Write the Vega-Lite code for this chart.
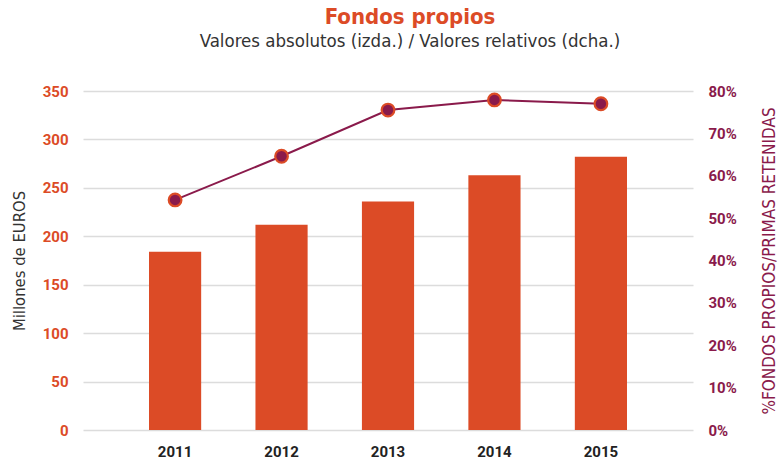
{
  "$schema": "https://vega.github.io/schema/vega-lite/v6.json",
  "width": 610,
  "height": 339,
  "autosize": "none",
  "padding": {"left": 83, "top": 91, "right": 90, "bottom": 35},
  "background": "white",
  "title": {
    "text": "Fondos propios",
    "subtitle": "Valores absolutos (izda.) / Valores relativos (dcha.)",
    "anchor": "middle",
    "dx": 22,
    "offset": 33,
    "font": "DejaVu Sans Condensed",
    "fontSize": 22,
    "fontWeight": "bold",
    "color": "#dc4b26",
    "subtitleFont": "DejaVu Sans Condensed",
    "subtitleFontSize": 18.5,
    "subtitleColor": "#333333",
    "subtitlePadding": 3
  },
  "data": {
    "values": [
      {"year": "2011", "millones": 184, "pct": 54.3},
      {"year": "2012", "millones": 212, "pct": 64.6},
      {"year": "2013", "millones": 236, "pct": 75.5},
      {"year": "2014", "millones": 263, "pct": 77.9},
      {"year": "2015", "millones": 282, "pct": 77.0}
    ]
  },
  "encoding": {
    "x": {
      "field": "year",
      "type": "nominal",
      "scale": {"paddingInner": 0.51, "paddingOuter": 0.62},
      "axis": {
        "title": null,
        "labelAngle": 0,
        "domain": false,
        "ticks": false,
        "labelPadding": 14,
        "labelFont": "Roboto",
        "labelFontSize": 15,
        "labelFontWeight": "bold",
        "labelColor": "#222222"
      }
    }
  },
  "layer": [
    {
      "mark": {"type": "bar", "color": "#dc4b26"},
      "encoding": {
        "y": {
          "field": "millones",
          "type": "quantitative",
          "scale": {"domain": [0, 350], "nice": false},
          "axis": {
            "title": "Millones de EUROS",
            "titleFont": "DejaVu Sans Condensed",
            "titleFontSize": 16.5,
            "titleFontWeight": "normal",
            "titleColor": "#333333",
            "titlePadding": 15,
            "values": [0, 50, 100, 150, 200, 250, 300, 350],
            "domain": false,
            "ticks": false,
            "labelPadding": 15,
            "labelFont": "Roboto",
            "labelFontSize": 15,
            "labelFontWeight": "bold",
            "labelColor": "#dc4b26",
            "gridColor": "#dcdcdc",
            "gridWidth": 1.5
          }
        }
      }
    },
    {
      "layer": [
        {
          "mark": {"type": "line", "color": "#8a1a4b", "strokeWidth": 2},
          "encoding": {
            "y": {
              "field": "pct",
              "type": "quantitative",
              "scale": {"domain": [0, 80], "nice": false},
              "axis": {
                "orient": "right",
                "title": "%FONDOS PROPIOS/PRIMAS RETENIDAS",
                "titleFont": "DejaVu Sans Condensed",
                "titleFontSize": 17,
                "titleFontWeight": "normal",
                "titleColor": "#8a1a4b",
                "titleAngle": -90,
                "titleBaseline": "top",
                "titlePadding": 25,
                "values": [0, 10, 20, 30, 40, 50, 60, 70, 80],
                "labelExpr": "datum.value + '%'",
                "grid": false,
                "domain": false,
                "ticks": false,
                "labelPadding": 15,
                "labelFont": "Roboto",
                "labelFontSize": 15,
                "labelFontWeight": "bold",
                "labelColor": "#8a1a4b"
              }
            }
          }
        },
        {
          "mark": {"type": "point", "filled": false, "fill": "#8a1a4b", "fillOpacity": 1, "stroke": "#dc4b26", "strokeWidth": 2.2, "size": 160, "opacity": 1},
          "encoding": {
            "y": {"field": "pct", "type": "quantitative"}
          }
        }
      ]
    }
  ],
  "resolve": {"scale": {"y": "independent"}},
  "config": {"view": {"stroke": null}}
}
